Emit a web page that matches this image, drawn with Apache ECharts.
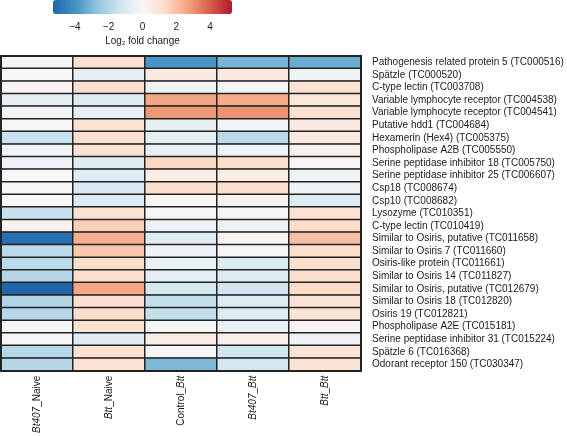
<!DOCTYPE html>
<html><head><meta charset="utf-8">
<script src="https://cdn.jsdelivr.net/npm/echarts@6/dist/echarts.min.js"></script>
<style>html,body{margin:0;padding:0;background:#fff}#c{width:567px;height:436px}</style>
</head><body><div id="c"></div>
<script>
const columns = ['Bt407_Naive', 'Btt_Naive', 'Control_Btt', 'Bt407_Btt', 'Btt_Btt'];
const genes = [
  'Pathogenesis related protein 5 (TC000516)',
  'Spätzle (TC000520)',
  'C-type lectin (TC003708)',
  'Variable lymphocyte receptor (TC004538)',
  'Variable lymphocyte receptor (TC004541)',
  'Putative hdd1 (TC004684)',
  'Hexamerin (Hex4) (TC005375)',
  'Phospholipase A2B (TC005550)',
  'Serine peptidase inhibitor 18 (TC005750)',
  'Serine peptidase inhibitor 25 (TC006607)',
  'Csp18 (TC008674)',
  'Csp10 (TC008682)',
  'Lysozyme (TC010351)',
  'C-type lectin (TC010419)',
  'Similar to Osiris, putative (TC011658)',
  'Similar to Osiris 7 (TC011660)',
  'Osiris-like protein (TC011661)',
  'Similar to Osiris 14 (TC011827)',
  'Similar to Osiris, putative (TC012679)',
  'Similar to Osiris 18 (TC012820)',
  'Osiris 19 (TC012821)',
  'Phospholipase A2E (TC015181)',
  'Serine peptidase inhibitor 31 (TC015224)',
  'Spätzle 6 (TC016368)',
  'Odorant receptor 150 (TC030347)'
];
const bt407Naive = [0.1, 0.0, 0.2, -0.6, -0.2, 0.1, -1.5, -0.2, -0.4, 0.0, 0.0, 0.0, -1.5, 0.2, -5.0, -1.8, -1.8, -1.9, -5.3, -2.0, -1.9, -0.1, 0.1, -1.9, -1.9];
const bttNaive   = [1.1, -0.6, 1.1, -0.8, -0.6, 1.0, 1.1, 0.9, -0.8, -0.8, -1.0, -0.9, 1.0, 1.6, 2.4, 1.8, 1.2, 1.2, 2.6, 1.1, 1.2, 1.0, -0.8, 1.0, 0.9];
const controlBtt = [-3.9, 0.6, -0.3, 2.6, 2.9, -0.5, -0.6, -0.5, 1.4, 0.5, 1.2, 0.1, 0.1, -0.4, -0.8, -0.3, -0.5, -0.7, -1.2, -1.6, -1.6, -0.1, 0.5, 0.0, -3.0];
const bt407Btt   = [-3.1, 0.6, -0.1, 2.5, 3.0, -0.2, -1.8, -0.4, 1.2, 0.5, 1.1, 0.3, -0.1, -0.4, 0.2, 0.0, -0.9, -0.8, -1.3, -0.9, -0.9, -0.5, 0.4, -1.3, -1.2];
const bttBtt     = [-3.3, -0.3, 0.9, 0.8, 1.1, 0.7, 0.6, 0.3, 0.1, -0.3, -0.3, -0.9, 1.0, 1.3, 2.0, 1.2, 1.1, 1.2, 1.3, 0.9, 0.9, 0.2, -0.3, 0.9, 0.9];
const colorTicks = [-4, -2, 0, 2, 4];
const scaleMin = -5.3, scaleMax = 5.3;

const seriesValues = [bt407Naive, bttNaive, controlBtt, bt407Btt, bttBtt];
const cells = [];
seriesValues.forEach((arr, ci) => arr.forEach((v, ri) => cells.push([ci, ri, v])));

const FONT = 'Liberation Sans';
const chart = echarts.init(document.getElementById('c'), null, {renderer: 'canvas'});
chart.setOption({
  animation: false,
  backgroundColor: '#fff',
  textStyle: {fontFamily: FONT},
  grid: [
    {left: 1, top: 56, width: 360, height: 316, containLabel: false},
    {left: 53, top: 0, width: 179, height: 14, containLabel: false}
  ],
  xAxis: [
    {type: 'category', gridIndex: 0, data: columns, position: 'bottom', z: 10,
     axisLine: {show: true, lineStyle: {color: '#222', width: 2}},
     axisTick: {show: false}, splitLine: {show: false},
     axisLabel: {interval: 0, rotate: 90, margin: 5, fontSize: 10, color: '#1a1a1a', fontFamily: FONT,
       formatter: v => v.split('_').map(p => (p.startsWith('Bt') ? '{i|' + p + '}' : '{n|' + p + '}')).join('{n|_}'),
       rich: {i: {fontStyle: 'italic', fontSize: 10, fontFamily: FONT, color: '#1a1a1a'},
              n: {fontSize: 10, fontFamily: FONT, color: '#1a1a1a'}}}},
    {type: 'category', gridIndex: 0, data: columns, position: 'top', z: 10,
     axisLine: {show: true, lineStyle: {color: '#222', width: 2}},
     axisTick: {show: false}, axisLabel: {show: false}, splitLine: {show: false}},
    {type: 'value', gridIndex: 1, min: scaleMin, max: scaleMax,
     axisLine: {show: false}, axisTick: {show: false}, splitLine: {show: false},
     axisLabel: {customValues: colorTicks, margin: 8, fontSize: 10, color: '#1a1a1a', fontFamily: FONT,
       formatter: v => String(v).replace('-', '\u2212')},
     name: '{a|Log}{s|2}{a| fold change}', nameLocation: 'middle', nameGap: 22,
     nameTextStyle: {rich: {a: {fontSize: 10, fontFamily: FONT, color: '#1a1a1a'},
                            s: {fontSize: 6, fontFamily: FONT, color: '#1a1a1a', verticalAlign: 'bottom', padding: [4, 0, 0, 0]}}}}
  ],
  yAxis: [
    {type: 'category', gridIndex: 0, data: genes, inverse: true, position: 'right', z: 10,
     axisLine: {show: true, lineStyle: {color: '#222', width: 2}},
     axisTick: {show: false}, splitLine: {show: false},
     axisLabel: {interval: 0, margin: 11, fontSize: 10, color: '#1a1a1a', fontFamily: FONT}},
    {type: 'category', gridIndex: 0, data: genes, inverse: true, position: 'left', z: 10,
     axisLine: {show: true, lineStyle: {color: '#222', width: 2}},
     axisTick: {show: false}, axisLabel: {show: false}, splitLine: {show: false}},
    {type: 'value', gridIndex: 1, show: false, min: 0, max: 1}
  ],
  visualMap: {
    type: 'continuous', seriesIndex: 0, min: scaleMin, max: scaleMax,
    orient: 'horizontal', left: 53, top: 0, itemWidth: 14, itemHeight: 179,
    padding: 0, calculable: false, text: null, showLabel: false, hoverLink: false,
    inRange: {color: ['#2166ac', '#4393c3', '#92c5de', '#d1e5f0', '#f7f7f7', '#fddbc7', '#f4a582', '#d6604d', '#b2182b']}
  },
  series: [{
    type: 'heatmap', xAxisIndex: 0, yAxisIndex: 0, data: cells,
    itemStyle: {borderColor: '#222', borderWidth: 1.5},
    emphasis: {disabled: true}
  }]
});
</script></body></html>
